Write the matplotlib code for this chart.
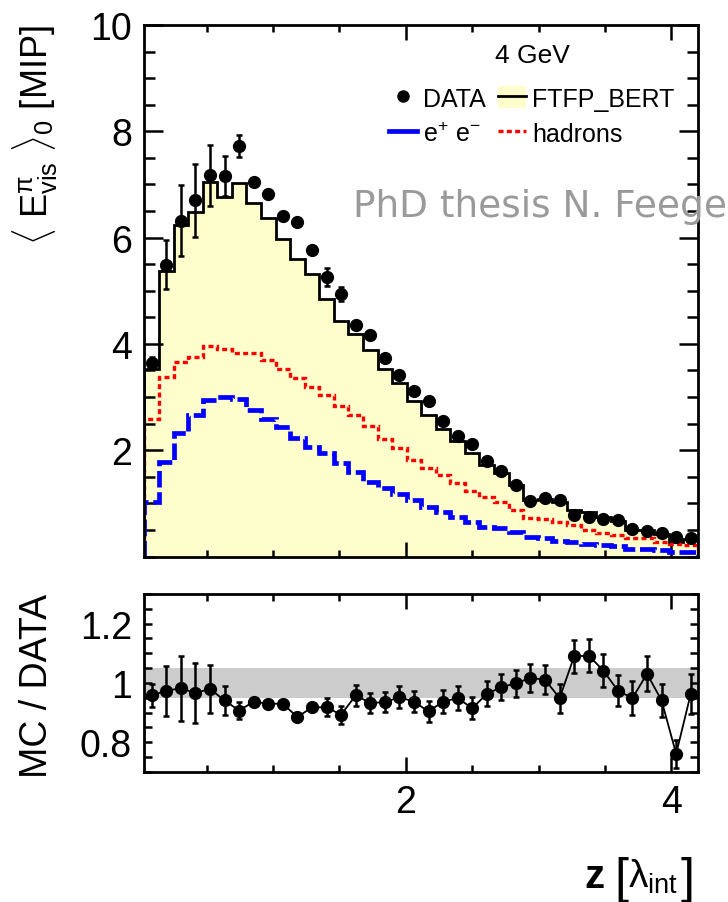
import numpy as np
import matplotlib
matplotlib.use("Agg")
import matplotlib.pyplot as plt
from matplotlib.ticker import MultipleLocator
from matplotlib.lines import Line2D
from matplotlib.patches import Patch

plt.rcParams['font.family'] = ['Liberation Sans', 'DejaVu Sans']
plt.rcParams['mathtext.fontset'] = 'custom'
plt.rcParams['mathtext.rm'] = 'Liberation Sans'
plt.rcParams['mathtext.it'] = 'Liberation Sans:italic'
plt.rcParams['mathtext.bf'] = 'Liberation Sans:bold'

# 38 AHCAL layers, uniform in z [lambda_int]
n_layers = 38
z_first_edge = 0.031
z_last_edge = 4.20

# layer-wise mean visible energy [MIP], 4 GeV pions
data = [3.65, 5.49, 6.32, 6.70, 7.17, 7.16, 7.72, 7.05, 6.82, 6.41,
        6.30, 5.77, 5.26, 4.94, 4.35, 4.16, 3.74, 3.41, 3.11, 2.93,
        2.55, 2.27, 2.11, 1.80, 1.60, 1.34, 1.05, 1.10, 1.06, 0.79,
        0.75, 0.70, 0.68, 0.51, 0.48, 0.45, 0.37, 0.34]
data_err = [0.10, 0.46, 0.67, 0.69, 0.57, 0.38, 0.21, 0.04, 0.04, 0.04,
            0.04, 0.05, 0.17, 0.14, 0.04, 0.04, 0.04, 0.04, 0.03, 0.03,
            0.03, 0.03, 0.03, 0.03, 0.03, 0.03, 0.03, 0.03, 0.03, 0.03,
            0.03, 0.03, 0.03, 0.03, 0.03, 0.03, 0.03, 0.03]
ftfp_bert = [3.52, 5.37, 6.23, 6.48, 7.05, 6.77, 7.03, 6.65, 6.36, 5.98,
             5.60, 5.32, 4.85, 4.43, 4.18, 3.88, 3.52, 3.27, 2.92, 2.66,
             2.40, 2.18, 1.94, 1.73, 1.58, 1.34, 1.06, 1.09, 1.02, 0.87,
             0.83, 0.74, 0.66, 0.49, 0.49, 0.42, 0.28, 0.33]
hadrons = [2.59, 3.38, 3.66, 3.75, 3.97, 3.91, 3.83, 3.82, 3.69, 3.53,
           3.35, 3.19, 3.03, 2.84, 2.66, 2.45, 2.22, 2.05, 1.82, 1.66,
           1.53, 1.38, 1.24, 1.12, 1.03, 0.87, 0.73, 0.71, 0.64, 0.59,
           0.49, 0.45, 0.41, 0.34, 0.34, 0.28, 0.24, 0.21]
em = [1.02, 1.78, 2.33, 2.66, 2.94, 3.00, 2.97, 2.76, 2.59, 2.44,
      2.23, 2.06, 1.94, 1.75, 1.59, 1.40, 1.28, 1.17, 1.06, 0.93,
      0.84, 0.75, 0.65, 0.56, 0.53, 0.46, 0.37, 0.35, 0.30, 0.28,
      0.24, 0.21, 0.19, 0.15, 0.15, 0.12, 0.08, 0.08]

ratio = [0.958, 0.974, 0.982, 0.966, 0.980, 0.941, 0.907, 0.937, 0.930, 0.930,
         0.885, 0.918, 0.918, 0.893, 0.958, 0.933, 0.935, 0.952, 0.937, 0.904,
         0.937, 0.949, 0.915, 0.963, 0.986, 0.999, 1.017, 1.011, 0.949, 1.090,
         1.092, 1.042, 0.974, 0.949, 1.031, 0.941, 0.761, 0.963]
ratio_err = [0.040, 0.084, 0.110, 0.100, 0.080, 0.050, 0.030, 0.010, 0.010, 0.010,
             0.010, 0.012, 0.030, 0.030, 0.034, 0.034, 0.034, 0.037, 0.036, 0.035,
             0.039, 0.040, 0.038, 0.042, 0.045, 0.045, 0.047, 0.048, 0.049, 0.056,
             0.056, 0.057, 0.052, 0.057, 0.059, 0.057, 0.046, 0.068]
band = (0.95, 1.05)

y_ticks = [2, 4, 6, 8, 10]
ratio_ticks = [0.8, 1.0, 1.2]
ratio_ticklabels = ['0.8', '1', '1.2']
x_ticks = [2, 4]

edges = np.linspace(z_first_edge, z_last_edge, n_layers + 1)
z = 0.5 * (edges[1:] + edges[:-1])

fig = plt.figure(figsize=(7.28, 9.03), dpi=100, facecolor='white')
ax = fig.add_axes([0.1984, 0.3826, 0.7604, 0.5886])
ax2 = fig.add_axes([0.1984, 0.1440, 0.7604, 0.1971])

# --- upper panel
ax.stairs(ftfp_bert, edges, fill=True, color='#fefecc', zorder=1)
ax.stairs(ftfp_bert, edges, color='black', lw=2.0, zorder=3)
ax.stairs(hadrons, edges, color='#ff0000', lw=2.4, ls=(0, (1.5, 1.0)), zorder=3)
ax.stairs(em, edges, color='#0000ff', lw=3.4, ls=(0, (3.5, 1.0)), zorder=3)
ax.errorbar(z, data, yerr=data_err, fmt='o', color='black', ms=8.5,
            elinewidth=1.8, capsize=2.5, capthick=1.8, zorder=4)

ax.set_xlim(edges[0], edges[-1])
ax.set_ylim(0, 10)
ax.set_yticks(y_ticks)
ax.set_xticks(x_ticks)
ax.xaxis.set_minor_locator(MultipleLocator(0.5))
ax.yaxis.set_minor_locator(MultipleLocator(0.5))
ax.tick_params(which='both', direction='in', top=True, right=True,
               labelbottom=False, labelsize=27, width=1.8, pad=9)
ax.tick_params(axis='y', which='major', length=14)
ax.tick_params(axis='y', which='minor', length=8)
ax.tick_params(axis='x', which='major', length=11)
ax.tick_params(axis='x', which='minor', length=5)

# watermark
fig.text(0.485, 1 - 216.7 / 903, 'PhD thesis N. Feege', family='DejaVu Sans',
         fontsize=27, color='#9a9a9a', va='baseline', ha='left', zorder=0.5)

# legend
h_data = Line2D([], [], marker='o', color='black', ls='none', ms=8)
h_em = Line2D([], [], color='#0000ff', lw=3.4)
h_ftfp = (Patch(facecolor='#fefecc', edgecolor='none'), Line2D([], [], color='black', lw=2.0))
h_had = Line2D([], [], color='#ff0000', lw=2.4, ls=(0, (1.5, 1.0)))
ax.legend([h_data, h_em, h_ftfp, h_had],
          ['DATA', r'$\mathregular{e^{+}\ e^{-}}$', 'FTFP_BERT', 'hadrons'],
          ncol=2, loc='upper left', bbox_to_anchor=(389 / 728, 1 - 87 / 903),
          bbox_transform=fig.transFigure, frameon=False, borderpad=0,
          borderaxespad=0, handlelength=1.1, handleheight=1.0,
          handletextpad=0.25, columnspacing=0.5, labelspacing=0.4, fontsize=18)
fig.text(532 / 728, 1 - 56 / 903, '4 GeV', ha='center', va='center', fontsize=19)

# --- ratio panel
ax2.axhspan(band[0], band[1], color='#cccccc', lw=0, zorder=0)
ax2.errorbar(z, ratio, yerr=ratio_err, fmt='o-', color='black', ms=8.5, lw=1.3,
             elinewidth=1.8, capsize=2.5, capthick=1.8, zorder=3)
ax2.set_xlim(edges[0], edges[-1])
ax2.set_ylim(0.7, 1.3)
ax2.set_yticks(ratio_ticks)
ax2.set_yticklabels(ratio_ticklabels)
ax2.set_xticks(x_ticks)
ax2.xaxis.set_minor_locator(MultipleLocator(0.5))
ax2.yaxis.set_minor_locator(MultipleLocator(0.05))
ax2.tick_params(which='both', direction='in', top=True, right=True,
                labelsize=27, width=1.8, pad=9)
ax2.tick_params(axis='y', which='both', length=6)
ax2.tick_params(axis='x', which='major', length=11)
ax2.tick_params(axis='x', which='minor', length=5)

for a in (ax, ax2):
    for s in a.spines.values():
        s.set_linewidth(2.0)
        s.set_zorder(5)

# axis titles (ROOT style placement)
fig.text(35 / 728, 1 - 25 / 903,
         r'$\langle\ \mathregular{E^{\pi}_{vis}}\ \rangle_{\mathregular{0}}$ [MIP]',
         rotation=90, ha='center', va='top', fontsize=26)
fig.text(37 / 728, 1 - 686 / 903, 'MC / DATA', rotation=90, ha='center',
         va='center', fontsize=27)

# x title: bold z, tall brackets around lambda_int
fig.text(604 / 728, 1 - 888 / 903, 'z', weight='bold', ha='right',
         va='baseline', fontsize=29)
fig.text(614 / 728, 1 - 893 / 903, '[', ha='left', va='baseline',
         fontsize=36, fontweight='light')
fig.text(628 / 728, 1 - 888 / 903, r'$\mathregular{\lambda_{int}}$',
         ha='left', va='baseline', fontsize=28)
fig.text(695 / 728, 1 - 893 / 903, ']', ha='right', va='baseline',
         fontsize=36, fontweight='light')

fig.savefig('out.png', dpi=100, facecolor='white')
